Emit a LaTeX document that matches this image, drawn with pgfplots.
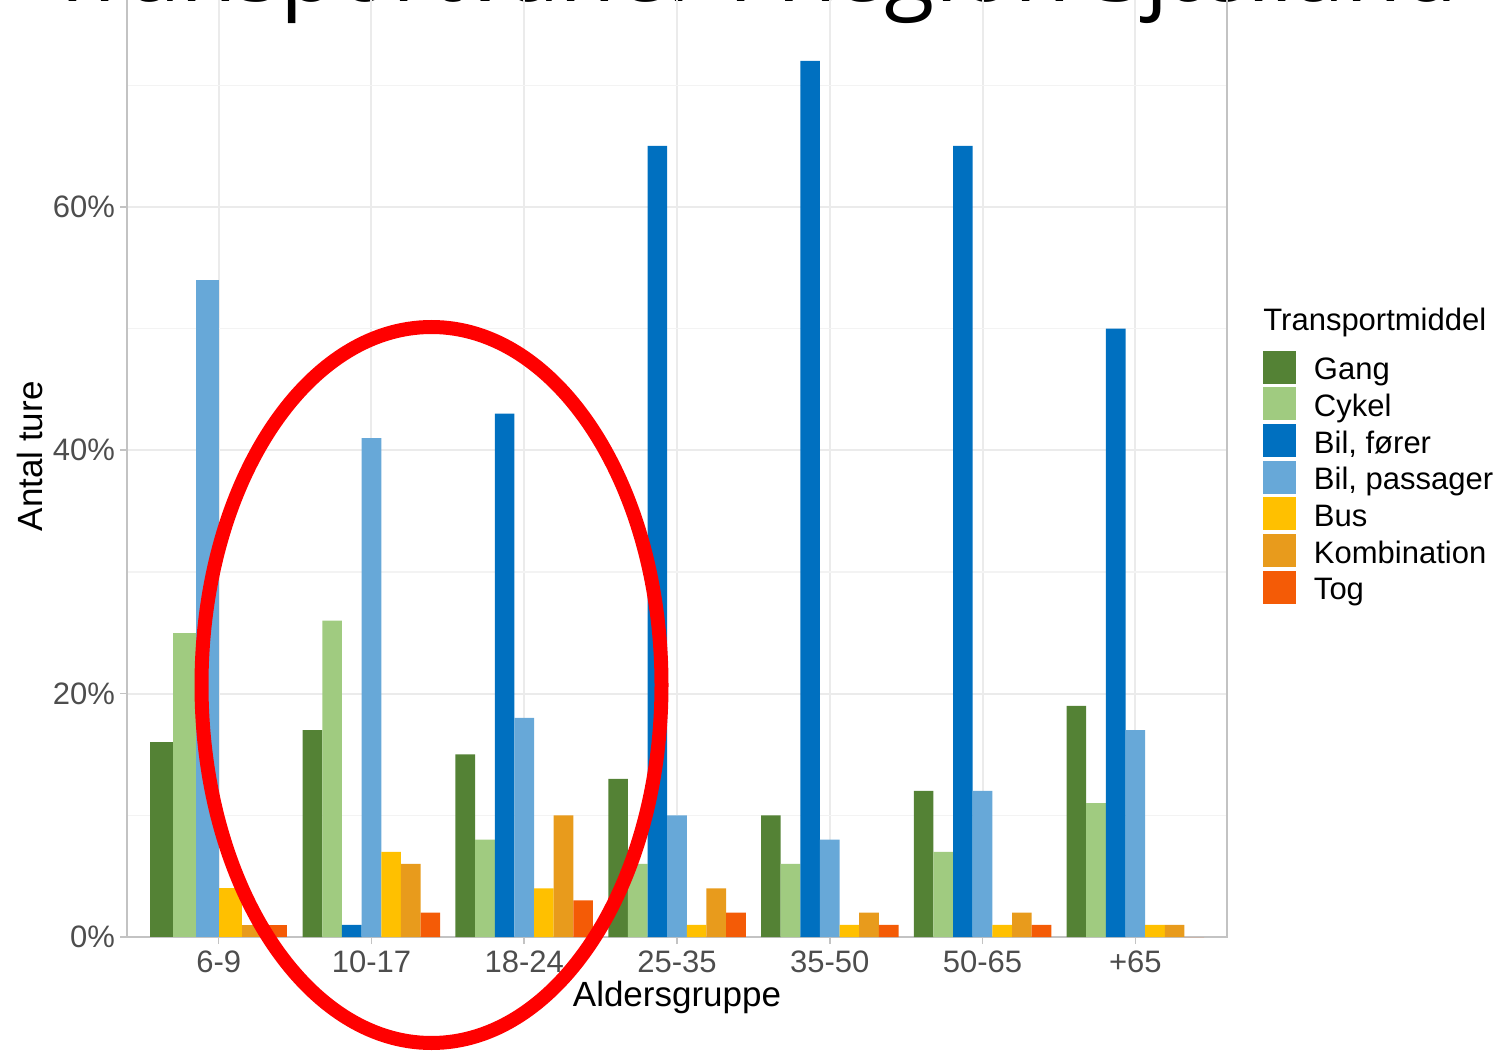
\documentclass[border=0pt]{standalone}
\usepackage{fontspec}
\setmainfont{Liberation Sans}
\newfontfamily\titlefont{Open Sans}
\usepackage{pgfplots}
\pgfplotsset{compat=1.18}
\definecolor{cGang}{RGB}{84,130,53}
\definecolor{cCykel}{RGB}{160,203,128}
\definecolor{cForer}{RGB}{0,112,192}
\definecolor{cPass}{RGB}{103,168,216}
\definecolor{cBus}{RGB}{255,192,0}
\definecolor{cKomb}{RGB}{232,155,28}
\definecolor{cTog}{RGB}{244,91,6}
\definecolor{gridc}{RGB}{235,235,235}
\definecolor{borderc}{RGB}{195,195,195}
\definecolor{tickc}{RGB}{77,77,77}
\pgfplotsset{
  sqlegend/.style={legend image code/.code={\fill[##1] (0pt,-6.75pt) rectangle (16.5pt,9.75pt);}},
  mybar/.style={ybar, bar width=0.128571, draw=none, fill=#1, sqlegend},
  mybarB/.style={ybar, bar width=0.15, draw=none, fill=#1, forget plot},
}
\begin{document}
\begin{tikzpicture}[x=1pt,y=1pt]
\path[use as bounding box] (0,0) rectangle (752.5,525.5);
\node[anchor=base, inner sep=0pt, font=\titlefont\fontsize{46}{50}\selectfont] at (376.25,524.5) {Transportvaner i Region Sjælland};
\begin{axis}[
  at={(63.5pt,57pt)}, anchor=south west,
  scale only axis, width=550pt, height=480.7pt,
  xmin=-0.6, xmax=6.6, ymin=0, ymax=79,
  xtick={0,1,2,3,4,5,6},
  xticklabels={6-9,10-17,18-24,25-35,35-50,50-65,+65},
  ytick={0,20,40,60},
  yticklabels={0\%,20\%,40\%,60\%},
  minor ytick={10,30,50,70},
  xmajorgrids, ymajorgrids, yminorgrids,
  major grid style={gridc, line width=1pt},
  minor grid style={gridc!60!white, line width=0.6pt},
  axis line style={borderc, line width=0.8pt},
  tick style={borderc, line width=0.8pt},
  tick align=outside, major tick length=3.5pt, minor tick length=0pt,
  xtick pos=left, ytick pos=left,
  ticklabel style={font=\fontsize{15.5}{18}\selectfont, text=tickc},
  yticklabel style={xshift=1pt},
  xlabel={Aldersgruppe}, ylabel={Antal ture},
  label style={font=\fontsize{17.5}{20}\selectfont},
  xlabel style={at={(axis description cs:0.5,-0.0624)}, anchor=center},
  ylabel style={at={(axis description cs:-0.0882,0.5)}, anchor=center},
  legend style={at={(axis description cs:1.0327,0.6099)}, anchor=north west,
    draw=none, fill=none, inner sep=0pt, outer sep=0pt, row sep=1.85pt,
    font=\fontsize{15.5}{18}\selectfont, nodes={inner sep=0pt},
    /tikz/every odd column/.append style={column sep=9pt}},
  legend cell align=left,
]
% groups 10-17 ... +65 (x = 1..6)
\addplot[mybar=cGang, bar shift=-0.385714] coordinates {(1,17)(2,15)(3,13)(4,10)(5,12)(6,19)};
\addplot[mybar=cCykel, bar shift=-0.257143] coordinates {(1,26)(2,8)(3,6)(4,6)(5,7)(6,11)};
\addplot[mybar=cForer, bar shift=-0.128571] coordinates {(1,1)(2,43)(3,65)(4,72)(5,65)(6,50)};
\addplot[mybar=cPass, bar shift=0] coordinates {(1,41)(2,18)(3,10)(4,8)(5,12)(6,17)};
\addplot[mybar=cBus, bar shift=0.128571] coordinates {(1,7)(2,4)(3,1)(4,1)(5,1)(6,1)};
\addplot[mybar=cKomb, bar shift=0.257143] coordinates {(1,6)(2,10)(3,4)(4,2)(5,2)(6,1)};
\addplot[mybar=cTog, bar shift=0.385714] coordinates {(1,2)(2,3)(3,2)(4,1)(5,1)(6,0)};
% group 6-9 (x = 0), no "Bil, fører"
\addplot[mybarB=cGang, bar shift=-0.375] coordinates {(0,16)};
\addplot[mybarB=cCykel, bar shift=-0.225] coordinates {(0,25)};
\addplot[mybarB=cPass, bar shift=-0.075] coordinates {(0,54)};
\addplot[mybarB=cBus, bar shift=0.075] coordinates {(0,4)};
\addplot[mybarB=cKomb, bar shift=0.225] coordinates {(0,1)};
\addplot[mybarB=cTog, bar shift=0.375] coordinates {(0,1)};
\legend{Gang,Cykel,{Bil, fører},{Bil, passager},Bus,Kombination,Tog}
\end{axis}
\node[anchor=base west, inner sep=0pt, font=\fontsize{15.5}{18}\selectfont] at (631.5,360) {Transportmiddel};
\draw[red, line width=7pt] (215.75,183) ellipse [x radius=115, y radius=179];
\end{tikzpicture}
\end{document}
